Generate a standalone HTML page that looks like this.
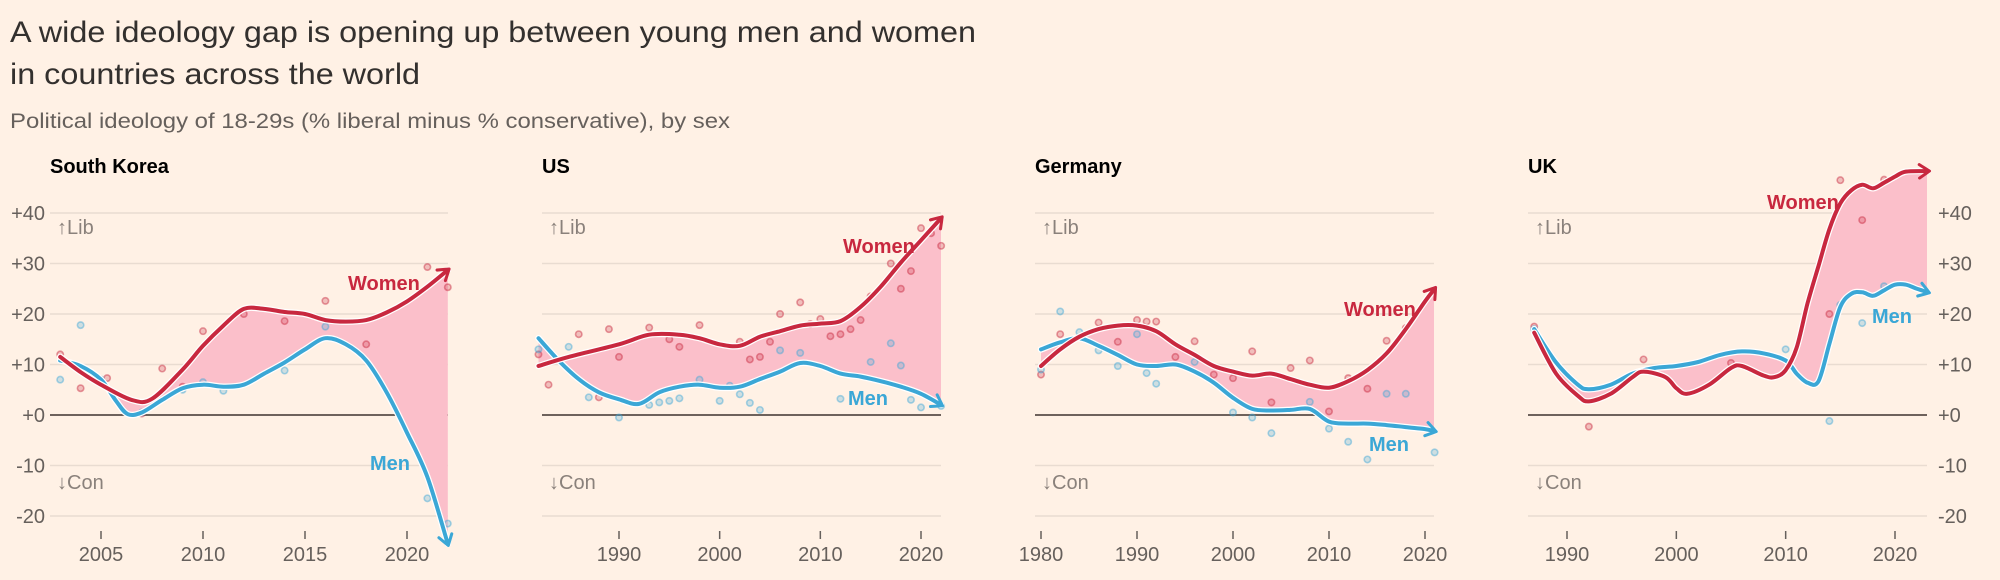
<!DOCTYPE html>
<html><head><meta charset="utf-8"><style>
html,body{margin:0;padding:0;background:#fff1e5;}
svg{display:block;font-family:"Liberation Sans",sans-serif;}
</style></head><body>
<svg id="chart" width="2000" height="580" viewBox="0 0 2000 580" xmlns="http://www.w3.org/2000/svg">
<rect x="0" y="0" width="2000" height="580" fill="#fff1e5"/>
<text x="10" y="42" font-size="30" fill="#33302e" textLength="966" lengthAdjust="spacingAndGlyphs">A wide ideology gap is opening up between young men and women</text>
<text x="10" y="84" font-size="30" fill="#33302e" textLength="410" lengthAdjust="spacingAndGlyphs">in countries across the world</text>
<text x="10" y="128" font-size="21" fill="#66605c" textLength="720" lengthAdjust="spacingAndGlyphs">Political ideology of 18-29s (% liberal minus % conservative), by sex</text>
<g id="panels"></g>
</svg>
<script>
// ---- data ----
const yTicks = [40, 30, 20, 10, 0, -10, -20];
const yTickLabels = ["+40", "+30", "+20", "+10", "+0", "-10", "-20"];

const skYears = [2003,2004,2005,2006.5,2007.5,2009,2010,2011,2012,2013,2014,2015,2016,2017,2018,2019,2020,2021,2022];
const skWomen = [11.5,8.5,6,3,3.2,9,13.7,17.7,21,21,20.4,20,18.8,18.5,18.8,20.3,22.5,25.4,28.7];
const skMenYears = [2003,2004,2005,2005.7,2006.3,2007,2008,2009,2010,2011,2012,2013,2014,2015,2016,2017,2018,2019,2020,2021,2022];
const skMen = [10.8,9.7,7,3,0.2,0.5,3,5.3,6,5.6,6,8.2,10.4,13,15.2,14,10.8,4.5,-3.5,-12.3,-25.5];
const skWomenDotYears = [2003,2004,2005.3,2007,2008,2009,2010,2012,2014,2016,2018,2021,2022];
const skWomenDots = [12,5.3,7.3,0.3,9.2,5.6,16.6,20,18.6,22.6,14,29.3,25.3];
const skMenDotYears = [2003,2004,2005,2007,2009,2010,2011,2014,2016,2021,2022];
const skMenDots = [7,17.8,7,0.5,5,6.5,4.8,8.8,17.5,-16.5,-21.5];

const usYears = [1982,1985,1990,1993,1996,1998,2000,2002,2004,2006,2008,2010,2012,2014,2016,2018,2020,2022];
const usWomen = [9.7,11.5,14,15.9,15.9,15.2,14,13.7,15.5,16.6,17.7,18.1,18.6,21.4,25.4,30.2,34.6,39];
const usMenYears = [1982,1984,1986,1988,1990,1992,1994,1996,1998,2000,2002,2004,2006,2008,2010,2012,2014,2016,2018,2020,2022];
const usMen = [15.2,10.8,7.1,4.5,3.1,2.2,4.5,5.6,6,5.4,5.6,7.1,8.6,10.3,9.7,8.2,7.6,6.7,5.6,4.2,2];
const usWomenDotYears = [1982,1983,1986,1988,1989,1990,1993,1995,1996,1998,2002,2003,2004,2005,2006,2008,2009,2010,2011,2012,2013,2014,2015,2017,2018,2019,2020,2021,2022];
const usWomenDots = [12,6,16,3.5,17,11.5,17.3,15,13.5,17.8,14.5,11,11.5,14.5,20,22.3,18,19,15.6,16,17,18.8,23.5,30,25,28.5,37,36,33.5];
const usMenDotYears = [1982,1985,1987,1990,1993,1994,1995,1996,1998,2000,2001,2002,2003,2004,2006,2008,2012,2015,2017,2018,2019,2020,2022];
const usMenDots = [13,13.5,3.5,-0.5,2,2.5,2.8,3.3,7,2.8,5.8,4.1,2.4,1,12.8,12.3,3.2,10.5,14.2,9.8,3,1.5,1.8];

const deYears = [1980,1982,1984,1986,1988,1990,1992,1994,1996,1998,2000,2002,2004,2006,2008,2010,2012,2014,2016,2018,2020,2021];
const deWomen = [9.7,13,15.5,17,17.7,17.7,16.6,14,11.9,9.7,8.6,7.8,8.2,7.1,6,5.4,6.7,8.9,12.2,17,22.5,25];
const deMen = [13,14.4,15.2,13.7,11.9,10,9.7,10,8.6,6.4,3.4,1.2,0.9,1,1.2,-1.3,-1.7,-1.7,-2,-2.4,-2.8,-3.2];
const deWomenDotYears = [1980,1982,1986,1988,1990,1991,1992,1994,1996,1998,2000,2002,2004,2006,2008,2010,2012,2014,2016,2018];
const deWomenDots = [8,16,18.3,14.5,18.8,18.5,18.5,11.5,14.6,8,7.3,12.6,2.5,9.3,10.8,0.7,7.3,5.2,14.7,17.2];
const deMenDotYears = [1980,1982,1984,1986,1988,1990,1991,1992,1996,2000,2002,2004,2008,2010,2012,2014,2016,2018,2021];
const deMenDots = [9,20.5,16.4,12.8,9.7,16,8.3,6.2,10.5,0.5,-0.5,-3.6,2.6,-2.7,-5.3,-8.8,4.2,4.2,-7.4];

const ukYears = [1987,1989,1991,1992,1994,1996,1997,1999,2000,2001,2003,2005,2006,2008,2009,2010,2011,2012,2013,2014,2015,2016,2017,2018,2019,2020,2021,2023];
const ukWomen = [16.3,8.2,3.8,2.7,4.2,7.5,8.6,7.5,5.3,4.2,6,9.3,9.7,7.8,7.5,8.9,13.3,22.1,29.5,36.8,41.9,44.5,45.6,44.9,46,47.2,48.2,48.3];
const ukMenYears = [1987,1989,1991,1992,1994,1996,1998,2000,2002,2004,2006,2008,2010,2011,2012,2013,2014,2015,2016,2017,2018,2019,2020,2021,2022,2023];
const ukMen = [17,10.4,6,5.1,6,8.2,9.3,9.7,10.5,11.9,12.6,12.2,10.8,8.2,6.4,6.7,14.1,21.4,24,24.3,23.6,24.7,25.8,25.8,25,24.3];
const ukWomenDotYears = [1987,1992,1997,2005,2014,2015,2017,2019];
const ukWomenDots = [17.5,-2.3,11,10.3,20,46.5,38.6,46.6];
const ukMenDotYears = [1987,2010,2014,2015,2017,2019];
const ukMenDots = [17,13,-1.2,21.8,18.2,25.5];

const panelNames = ["South Korea", "US", "Germany", "UK"];
const skXTicks = [2005, 2010, 2015, 2020];
const usXTicks = [1990, 2000, 2010, 2020];
const deXTicks = [1980, 1990, 2000, 2010, 2020];
const ukXTicks = [1990, 2000, 2010, 2020];

// ---- layout ----
const NS = "http://www.w3.org/2000/svg";
const WOMEN = "#c8283f", MEN = "#3ba7d6", FILL = "#fbbfca";
function yScale(v){ return 415 - v * 5.05; }
function mkX(d0, d1, r0, r1){ return v => r0 + (v - d0) * (r1 - r0) / (d1 - d0); }
function el(tag, attrs, parent){
  const e = document.createElementNS(NS, tag);
  for (const k in attrs) e.setAttribute(k, attrs[k]);
  parent.appendChild(e);
  return e;
}
function pts(xs, ys, xf, fillMax){
  return xs.map((x, i) => [Math.min(xf(x), fillMax === undefined ? 1e9 : fillMax), yScale(ys[i])]);
}
function curve(p, move){
  let d = (move ? "M" : "L") + p[0][0].toFixed(1) + "," + p[0][1].toFixed(1);
  for (let i = 0; i < p.length - 1; i++){
    const p0 = p[i - 1] || p[i], p1 = p[i], p2 = p[i + 1], p3 = p[i + 2] || p2;
    const c1x = p1[0] + (p2[0] - p0[0]) / 6, c1y = p1[1] + (p2[1] - p0[1]) / 6;
    const c2x = p2[0] - (p3[0] - p1[0]) / 6, c2y = p2[1] - (p3[1] - p1[1]) / 6;
    d += " C" + c1x.toFixed(1) + "," + c1y.toFixed(1) + " " + c2x.toFixed(1) + "," + c2y.toFixed(1) + " " + p2[0].toFixed(1) + "," + p2[1].toFixed(1);
  }
  return d;
}

const svg = document.getElementById("panels");
const defs = el("defs", {}, svg);
[["arrW", WOMEN], ["arrM", MEN]].forEach(([id, c]) => {
  const m = el("marker", {id: id, viewBox: "0 0 10 10", refX: "6", refY: "5", markerWidth: "4.2", markerHeight: "4.2", orient: "auto", markerUnits: "strokeWidth"}, defs);
  el("path", {d: "M1,1 L7,5 L1,9", fill: "none", stroke: c, "stroke-width": "1.8", "stroke-linecap": "round", "stroke-linejoin": "round"}, m);
});

const panels = [
  {name: panelNames[0], titleX: 50, g0: 50, g1: 448, x: mkX(2005, 2020, 101, 407), ticks: skXTicks,
   wy: skYears, w: skWomen, my: skMenYears, m: skMen, wdy: skWomenDotYears, wd: skWomenDots, mdy: skMenDotYears, md: skMenDots,
   wl: [348, 290], ml: [370, 470], yl: "left", lib: 57},
  {name: panelNames[1], titleX: 542, g0: 542, g1: 941, x: mkX(1990, 2020, 619, 921), ticks: usXTicks,
   wy: usYears, w: usWomen, my: usMenYears, m: usMen, wdy: usWomenDotYears, wd: usWomenDots, mdy: usMenDotYears, md: usMenDots,
   wl: [843, 253], ml: [848, 405], yl: null, lib: 549},
  {name: panelNames[2], titleX: 1035, g0: 1035, g1: 1434, x: mkX(1980, 2020, 1041, 1425), ticks: deXTicks,
   wy: deYears, w: deWomen, my: deYears, m: deMen, wdy: deWomenDotYears, wd: deWomenDots, mdy: deMenDotYears, md: deMenDots,
   wl: [1344, 316], ml: [1369, 451], yl: null, lib: 1042},
  {name: panelNames[3], titleX: 1528, g0: 1528, g1: 1927, x: mkX(1990, 2020, 1567, 1895), ticks: ukXTicks,
   wy: ukYears, w: ukWomen, my: ukMenYears, m: ukMen, wdy: ukWomenDotYears, wd: ukWomenDots, mdy: ukMenDotYears, md: ukMenDots,
   wl: [1767, 209], ml: [1872, 323], yl: "right", lib: 1535}
];

panels.forEach((P, pi) => {
  const slug = ["south-korea", "us", "germany", "uk"][pi];
  const g = el("g", {}, svg);
  
  
  const t = el("text", {x: P.titleX, y: 173, "font-size": 20, "font-weight": "bold", fill: "#000"}, g);
  
  
  t.textContent = P.name;
  // grid
  yTicks.forEach((v, i) => {
    const ln = el("line", {x1: P.g0, x2: P.g1, y1: yScale(v), y2: yScale(v), stroke: v === 0 ? "#6e625c" : "#e9dcd1", "stroke-width": v === 0 ? 2 : 1.6}, g);
    
    
    if (P.yl){
      const lt = el("text", {x: P.yl === "left" ? 45 : 1938, y: yScale(v) + 7, "font-size": 20, fill: "#66605c", "text-anchor": P.yl === "left" ? "end" : "start"}, g);
      
      
      lt.textContent = yTickLabels[i];
    }
  });
  const lib = el("text", {x: P.lib, y: 234, "font-size": 20, fill: "#8a817b"}, g);
  
  
  lib.textContent = "\u2191Lib";
  const con = el("text", {x: P.lib, y: 489, "font-size": 20, fill: "#8a817b"}, g);
  
  
  con.textContent = "\u2193Con";
  // x ticks
  P.ticks.forEach(yr => {
    const tk = el("line", {x1: P.x(yr), x2: P.x(yr), y1: 531, y2: 539, stroke: "#66605c", "stroke-width": 1.5}, g);
    
    
    const tl = el("text", {x: P.x(yr), y: 561, "font-size": 20, fill: "#66605c", "text-anchor": "middle"}, g);
    
    
    tl.textContent = yr;
  });
  // fill between
  const wp = pts(P.wy, P.w, P.x, P.g1), mp = pts(P.my, P.m, P.x, P.g1);
  const area = el("path", {d: curve(wp, true) + " " + curve(mp.slice().reverse(), false) + " Z", fill: FILL, stroke: "none"}, g);
  
  
  // dots
  [[P.wdy, P.wd, WOMEN, "women-dot"], [P.mdy, P.md, MEN, "men-dot"]].forEach(([xs, ys, c, nm]) => {
    xs.forEach((x, i) => {
      const d = el("circle", {cx: P.x(x), cy: yScale(ys[i]), r: 3.2, fill: c, "fill-opacity": 0.25, stroke: c, "stroke-opacity": 0.45, "stroke-width": 1.6}, g);
      
      
    });
  });
  // lines
  const wl = pts(P.wy, P.w, P.x), ml = pts(P.my, P.m, P.x);
  [[ml, MEN, "arrM", "men-line"], [wl, WOMEN, "arrW", "women-line"]].forEach(([p, c, mk, nm]) => {
    const halo = el("path", {d: curve(p, true), fill: "none", stroke: "#fff", "stroke-width": 6.5, "stroke-linecap": "round"}, g);
    
    
    const ln = el("path", {d: curve(p, true), fill: "none", stroke: c, "stroke-width": 4, "stroke-linecap": "round", "marker-end": "url(#" + mk + ")"}, g);
    
    
  });
  const wlab = el("text", {x: P.wl[0], y: P.wl[1], "font-size": 20, "font-weight": "bold", fill: WOMEN}, g);
  
  
  wlab.textContent = "Women";
  const mlab = el("text", {x: P.ml[0], y: P.ml[1], "font-size": 20, "font-weight": "bold", fill: MEN}, g);
  
  
  mlab.textContent = "Men";
});
</script>
</body></html>
